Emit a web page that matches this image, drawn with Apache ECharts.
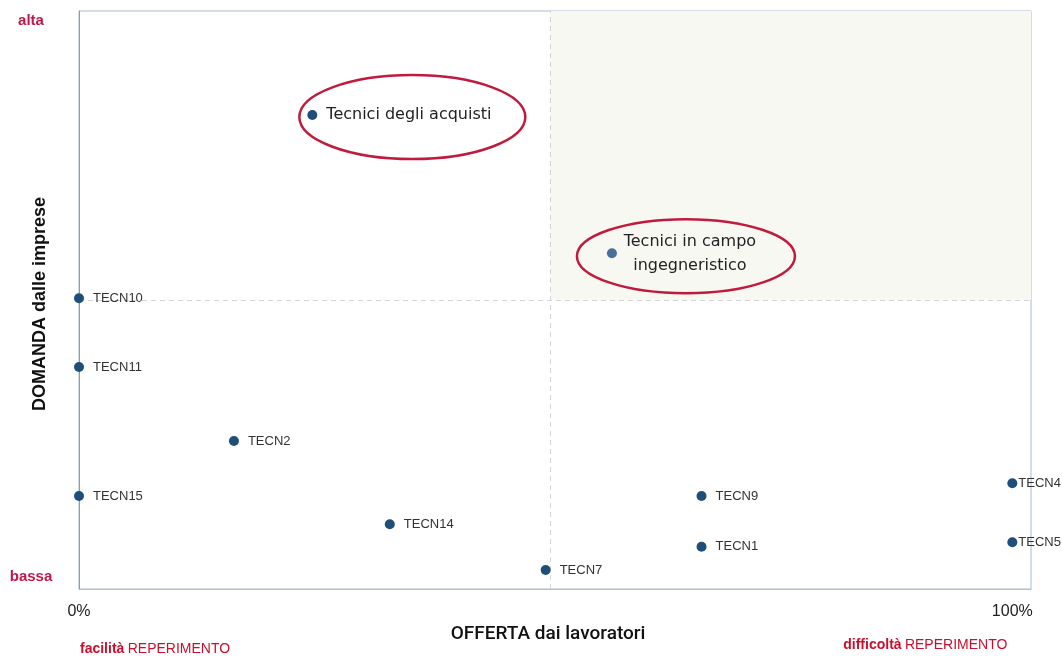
<!DOCTYPE html>
<html>
<head>
<meta charset="utf-8">
<script src="https://cdn.jsdelivr.net/npm/echarts@6/dist/echarts.min.js"></script>
<style>
  html, body { margin: 0; padding: 0; background: #fff; }
  #chart { width: 1062px; height: 656px; }
</style>
</head>
<body>
<div id="chart"></div>
<script>
// Professions: supply difficulty (x) vs. company demand (y)
const names = ['Tecnici degli acquisti', 'Tecnici in campo\ningegneristico', 'TECN10', 'TECN11', 'TECN2', 'TECN15', 'TECN14', 'TECN7', 'TECN9', 'TECN1', 'TECN4', 'TECN5'];
const offerta = [0.25, 0.571, 0, 0, 0.166, 0, 0.333, 0.5, 0.667, 0.667, 1, 1];
const domanda = [0.82, 0.581, 0.503, 0.384, 0.256, 0.161, 0.112, 0.033, 0.161, 0.073, 0.183, 0.081];
const highlighted = ['Tecnici degli acquisti', 'Tecnici in campo\ningegneristico'];

const xTickLabels = { 0: '0%', 1: '100%' };
const yTickLabels = ['alta', 'bassa'];
const X_MAX = 1.02;
const MID_X = 0.505;
const MID_Y = 0.5;

const DOT = '#1f4e79';
const RED = '#c0174a';
const FONT = '"Liberation Sans", Arial, sans-serif';
const WIDE = '"DejaVu Sans", sans-serif';

const data = names.map((n, i) => {
  const item = { name: n, value: [offerta[i], domanda[i]] };
  if (n === highlighted[0]) {
    item.label = { fontFamily: WIDE, fontSize: 16, color: '#222', distance: 9 };
  } else if (n === highlighted[1]) {
    item.itemStyle = { color: '#4a6f98' };
    item.label = { position: 'inside', offset: [78, 1], align: 'center', fontFamily: WIDE, fontSize: 16, color: '#222', lineHeight: 24 };
  } else if (offerta[i] >= 1) {
    item.label = { distance: 1 };
  }
  return item;
});

const chart = echarts.init(document.getElementById('chart'));
chart.setOption({
  animation: false,
  grid: { left: 79, right: 31, top: 11, bottom: 67, show: true, borderColor: '#a9bacb', borderWidth: 1, backgroundColor: 'transparent' },
  xAxis: {
    type: 'value', min: 0, max: X_MAX, interval: 1,
    name: 'OFFERTA dai lavoratori', nameLocation: 'middle', nameGap: 29,
    nameTextStyle: { fontFamily: 'Roboto, sans-serif', fontWeight: 500, fontSize: 19, color: '#111', padding: [0, 14, 0, 0] },
    axisLine: { show: true, lineStyle: { color: '#bdbdbd' } },
    axisTick: { show: false },
    splitLine: { show: false },
    axisLabel: {
      margin: 15, fontFamily: FONT, fontSize: 16, color: '#222',
      formatter: v => xTickLabels[v] || ''
    }
  },
  yAxis: {
    type: 'value', min: 0, max: 1, interval: 1,
    name: 'DOMANDA dalle imprese', nameLocation: 'middle', nameGap: 30, nameRotate: 90,
    nameTextStyle: { fontFamily: FONT, fontSize: 18, fontWeight: 'bold', color: '#111', padding: [0, 8, 0, 0] },
    axisLine: { show: true, lineStyle: { color: '#9a9a9a' } },
    axisTick: { show: false },
    splitLine: { show: false },
    axisLabel: { show: false }
  },
  series: [{
    type: 'scatter',
    symbolSize: 10,
    itemStyle: { color: DOT, opacity: 1 },
    label: {
      show: true, position: 'right', distance: 9,
      formatter: p => p.name,
      fontFamily: FONT, fontSize: 13, color: '#333'
    },
    data: data,
    z: 5,
    markArea: {
      silent: true,
      itemStyle: { color: '#f8f8f3' },
      data: [[{ coord: [MID_X, MID_Y] }, { coord: [X_MAX, 1] }]]
    },
    markLine: {
      silent: true, symbol: 'none', label: { show: false },
      lineStyle: { type: [5, 4], color: '#d6d6d6', width: 1 },
      data: [
        [{ coord: [MID_X, 0] }, { coord: [MID_X, 1] }],
        [{ coord: [0, MID_Y] }, { coord: [X_MAX, MID_Y] }]
      ]
    }
  }]
});

// Annotations placed from the grid's own coordinate system
function toPx(x, y) { return chart.convertToPixel({ gridIndex: 0 }, [x, y]); }
const pA = toPx(offerta[0], domanda[0]);
const pB = toPx(offerta[1], domanda[1]);
const yTopPx = toPx(0, 1)[1], yBottomPx = toPx(0, 0)[1];
const x0 = toPx(0, 0)[0], x1 = toPx(1, 0)[0];

const richRed = {
  b: { fontFamily: FONT, fontSize: 14, fontWeight: 'bold', fill: '#c8102e' },
  n: { fontFamily: FONT, fontSize: 14, fill: '#c8102e' }
};

chart.setOption({
  graphic: [
    { type: 'ellipse', z: 10, shape: { cx: pA[0] + 100, cy: pA[1] + 2, rx: 113, ry: 42 },
      style: { fill: 'none', stroke: '#c01a3e', lineWidth: 2.5 } },
    { type: 'ellipse', z: 10, shape: { cx: pB[0] + 74, cy: pB[1] + 3, rx: 109, ry: 37 },
      style: { fill: 'none', stroke: '#c01a3e', lineWidth: 2.5 } },
    { type: 'text', x: 31, y: yTopPx + 10, style: { text: yTickLabels[0], fill: RED, font: 'bold 15px ' + FONT, textAlign: 'center', textVerticalAlign: 'middle' } },
    { type: 'text', x: 31, y: yBottomPx - 12, style: { text: yTickLabels[1], fill: RED, font: 'bold 15px ' + FONT, textAlign: 'center', textVerticalAlign: 'middle' } },
    { type: 'text', x: x0 + 1, y: 649, style: { text: '{b|facilità} {n|REPERIMENTO}', textVerticalAlign: 'middle', rich: richRed } },
    { type: 'text', x: x1 - 5, y: 645, style: { text: '{b|difficoltà} {n|REPERIMENTO}', textAlign: 'right', textVerticalAlign: 'middle', rich: richRed } }
  ]
});
</script>
</body>
</html>
